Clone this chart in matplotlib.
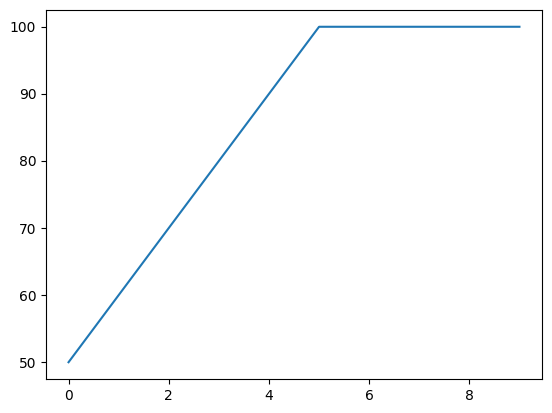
import matplotlib
matplotlib.use("Agg")
import matplotlib.pyplot as plt

x_values = [0, 1, 2, 3, 4, 5, 6, 7, 8, 9]
y_values = [50, 60, 70, 80, 90, 100, 100, 100, 100, 100]

fig = plt.figure(figsize=(5.52, 4.13), dpi=100)
ax = fig.add_axes([46/552, 34/413, 496/552, 369/413])
ax.plot(x_values, y_values, color="#1f77b4")
ax.set_yticks([50, 60, 70, 80, 90, 100])
ax.set_xticks([0, 2, 4, 6, 8])
fig.savefig("out.png", dpi=100)
